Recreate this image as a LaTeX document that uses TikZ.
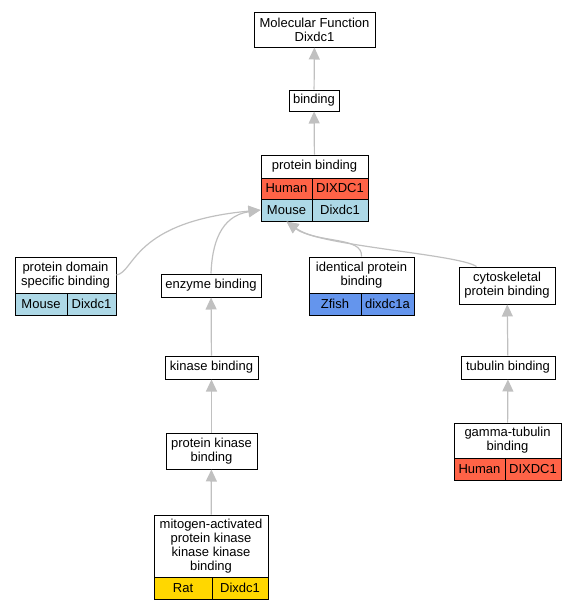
\documentclass[tikz,border=0pt]{standalone}
\usepackage{fontspec}
\setmainfont{Liberation Sans}
\usetikzlibrary{arrows.meta}
\definecolor{human}{RGB}{255,99,71}
\definecolor{mouse}{RGB}{173,216,230}
\definecolor{zfish}{RGB}{100,149,237}
\definecolor{rat}{RGB}{255,215,0}
\definecolor{edgegray}{RGB}{192,192,192}
\tikzset{
  term/.style={draw, line width=1pt, fill=white, inner sep=0pt, align=center,
    font=\fontsize{13}{14}\selectfont},
  cell/.style={term},
  isa/.style={draw=edgegray, line width=1.2pt, -{Triangle[length=12pt,width=11pt]}}
}
\begin{document}
\begin{tikzpicture}[x=1pt,y=-1pt]
  \useasboundingbox (0,0) rectangle (577,611);
  % terms
  \node[term, minimum width=121pt, minimum height=35pt] (mf) at (314.5,29.5) {Molecular Function\\Dixdc1};
  \node[term, minimum width=50pt, minimum height=21pt] (bind) at (314,100.5) {binding};
  \node[term, minimum width=107pt, minimum height=23pt] (pb) at (314.5,166.5) {protein binding};
  \node[cell, fill=human, minimum width=51pt, minimum height=21pt] (pbhs) at (286.5,188.5) {Human};
  \node[cell, fill=human, minimum width=56pt, minimum height=21pt] (pbhg) at (340,188.5) {DIXDC1};
  \node[cell, fill=mouse, minimum width=51pt, minimum height=22pt] (pbms) at (286.5,210) {Mouse};
  \node[cell, fill=mouse, minimum width=56pt, minimum height=22pt] (pbmg) at (340,210) {Dixdc1};
  \node[term, minimum width=101pt, minimum height=36pt] (pdsb) at (65.5,275) {protein domain\\specific binding};
  \node[cell, fill=mouse, minimum width=52pt, minimum height=22pt] (pdsbs) at (41,304) {Mouse};
  \node[cell, fill=mouse, minimum width=49pt, minimum height=22pt] (pdsbg) at (91.5,304) {Dixdc1};
  \node[term, minimum width=100pt, minimum height=23pt] (enz) at (211,285.5) {enzyme binding};
  \node[term, minimum width=105pt, minimum height=36pt] (ipb) at (361.5,275) {identical protein\\binding};
  \node[cell, fill=zfish, minimum width=52pt, minimum height=22pt] (ipbs) at (335,304) {Zfish};
  \node[cell, fill=zfish, minimum width=53pt, minimum height=22pt] (ipbg) at (387.5,304) {dixdc1a};
  \node[term, minimum width=96pt, minimum height=37pt] (cyto) at (507,285.5) {cytoskeletal\\protein binding};
  \node[term, minimum width=93pt, minimum height=23pt] (kin) at (211.5,367.5) {kinase binding};
  \node[term, minimum width=91pt, minimum height=36pt] (pk) at (211.5,451) {protein kinase\\binding};
  \node[term, minimum width=114pt, minimum height=62pt] (mapk) at (211,546) {mitogen-activated\\protein kinase\\kinase kinase\\binding};
  \node[cell, fill=rat, minimum width=58pt, minimum height=22pt] (mapks) at (183,588) {Rat};
  \node[cell, fill=rat, minimum width=56pt, minimum height=22pt] (mapkg) at (240,588) {Dixdc1};
  \node[term, minimum width=94pt, minimum height=23pt] (tub) at (508,367.5) {tubulin binding};
  \node[term, minimum width=107pt, minimum height=35pt] (gtub) at (507.5,440.5) {gamma-tubulin\\binding};
  \node[cell, fill=human, minimum width=51pt, minimum height=22pt] (gtubs) at (479.5,469) {Human};
  \node[cell, fill=human, minimum width=56pt, minimum height=22pt] (gtubg) at (533,469) {DIXDC1};
  % is_a edges
  \draw[isa] (bind) -- (mf);
  \draw[isa] (pb) -- (bind);
  \draw[isa] (pdsb.east) .. controls (135,272) and (132,222) .. (pbms.west);
  \draw[isa] (enz.north) .. controls (212,245) and (220,216) .. (pbms.west);
  \draw[isa] (ipb.north) .. controls (363,236) and (318,244) .. (pbms.south);
  \draw[isa] (cyto.north west) ++(18,0) .. controls (458,254) and (318,246) .. (pbms.south);
  \draw[isa] (kin) -- (enz);
  \draw[isa] (pk) -- (kin);
  \draw[isa] (mapk) -- (pk);
  \draw[isa] (tub) -- (cyto);
  \draw[isa] (gtub) -- (tub);
\end{tikzpicture}
\end{document}
